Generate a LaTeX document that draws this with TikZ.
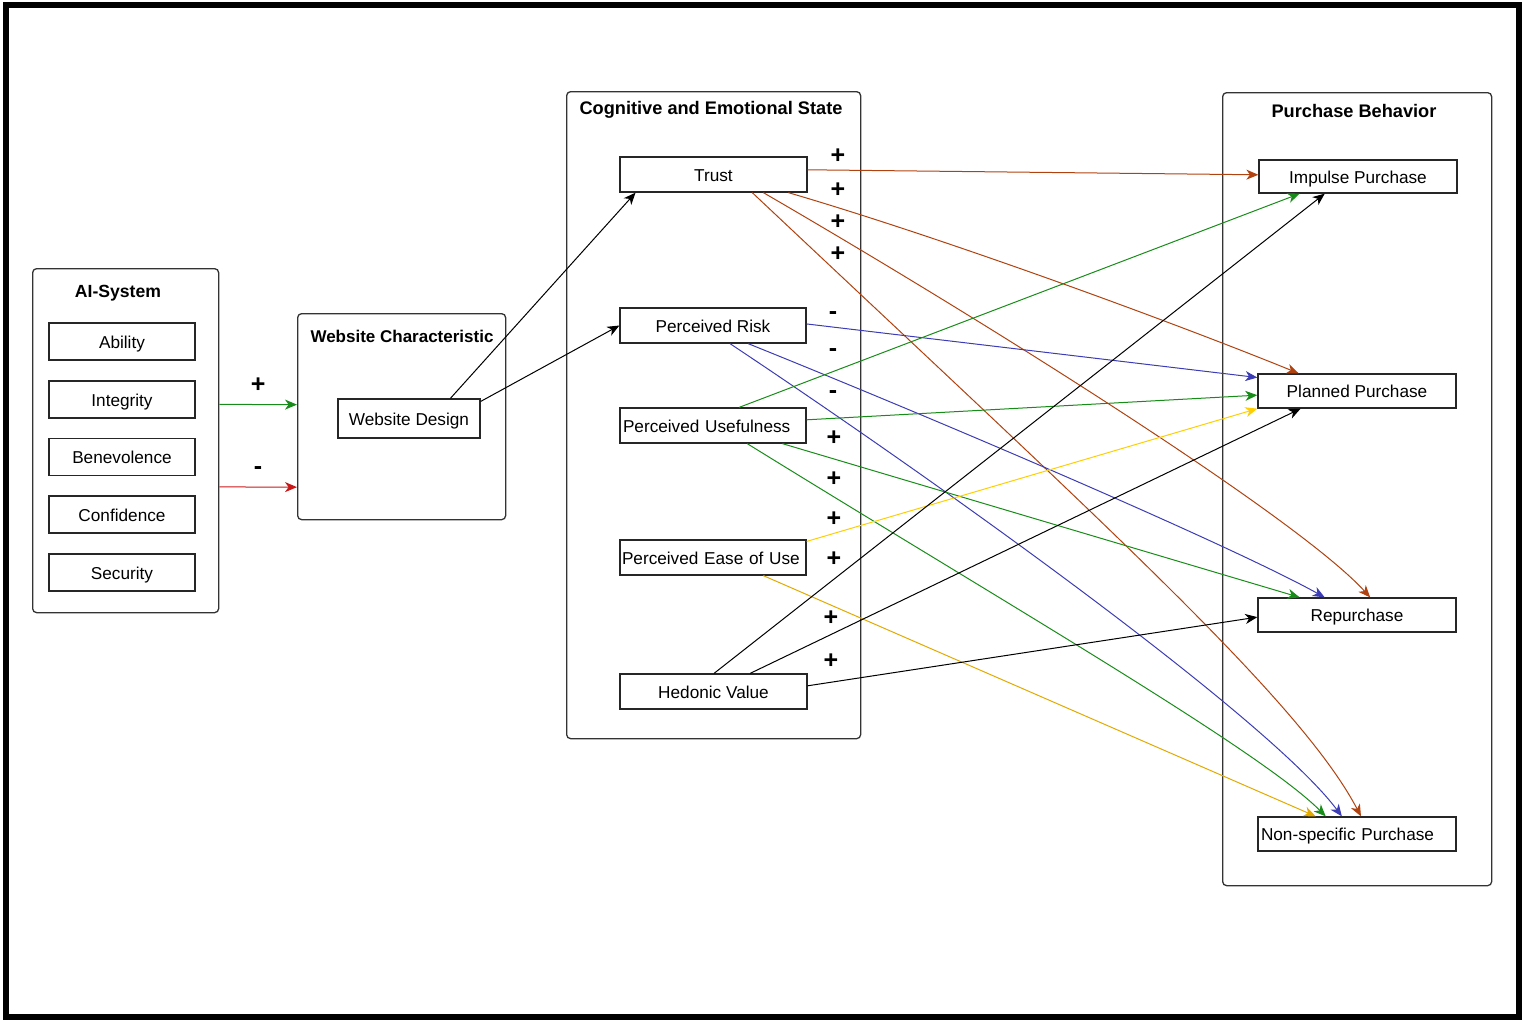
\documentclass[tikz,border=0pt]{standalone}
\usepackage{fontspec}
\setmainfont{Liberation Sans}
\usetikzlibrary{arrows.meta,calc}
\definecolor{cbrown}{RGB}{176,66,16}
\definecolor{cblue}{RGB}{60,60,180}
\definecolor{cgreen}{RGB}{24,140,24}
\definecolor{cred}{RGB}{200,24,24}
\definecolor{cyellow}{RGB}{255,206,0}
\definecolor{cgold}{RGB}{226,170,0}
\begin{document}
\begin{tikzpicture}[x=0.5pt,y=-0.5pt,
  container/.style={draw=black!80, line width=0.65pt, rounded corners=2pt, anchor=north west, inner sep=0pt},
  item/.style={draw=black!85, line width=0.65pt, fill=white, inner sep=0pt, text height=8pt, text depth=1.3pt, font=\fontsize{8.6}{10}\selectfont},
  ttl/.style={font=\bfseries\fontsize{9.1}{11}\selectfont, inner sep=0pt},
  sgn/.style={font=\bfseries\fontsize{12.5}{14}\selectfont, inner sep=0pt},
  conn/.style={line width=0.5pt, -{Stealth[length=6pt,width=5pt,inset=1.8pt]}}]
\useasboundingbox (0,0) rectangle (1528,1029);
% outer frame
\draw[line width=2.6pt] (6,5) rectangle (1519,1017);

% containers
\node[container, minimum width=93pt, minimum height=172pt] (ai) at (32,268) {};
\node[container, minimum width=104pt, minimum height=103pt] (wc) at (297,313) {};
\node[container, minimum width=147pt, minimum height=323.5pt] (cog) at (566,91) {};
\node[container, minimum width=134.5pt, minimum height=396.5pt] (pb) at (1222,92) {};

% titles
\node[ttl, font=\bfseries\fontsize{8.8}{11}\selectfont] (tai) at (118,293) {AI-System};
\node[ttl, font=\bfseries\fontsize{8.5}{11}\selectfont] (twc) at (402,336) {Website Characteristic};
\node[ttl] (tcog) at (711,110) {Cognitive and Emotional State};
\node[ttl] (tpb) at (1354,111) {Purchase Behavior};

% AI items
\node[item, minimum width=73pt, minimum height=18.5pt] (abil) at (122,341.5) {Ability};
\node[item, minimum width=73pt, minimum height=18.5pt] (integ) at (122,399.5) {Integrity};
\node[item, minimum width=73pt, minimum height=18.5pt] (bene) at (122,457) {Benevolence};
\node[item, minimum width=73pt, minimum height=18.5pt] (conf) at (122,514.5) {Confidence};
\node[item, minimum width=73pt, minimum height=18.5pt] (secu) at (122,572.5) {Security};

% website design
\node[item, minimum width=71pt, minimum height=19.5pt] (wd) at (409,418.5) {Website Design};

% cognitive items
\node[item, minimum width=93.5pt, minimum height=17.5pt] (trust) at (713.5,174.5) {Trust};
\node[item, minimum width=93pt, minimum height=17.5pt] (pr) at (713,325.5) {Perceived Risk};
\node[item, minimum height=17.5pt, text width=90pt, inner xsep=1.5pt, align=left] (pu) at (713,425.5) {Perceived Usefulness};
\node[item, minimum height=17.5pt, text width=91pt, inner xsep=1pt, align=left] (peou) at (713,557.5) {Perceived Ease of Use};
\node[item, minimum width=93.5pt, minimum height=17.5pt] (hv) at (713.5,691.5) {Hedonic Value};

% purchase items
\node[item, minimum width=99pt, minimum height=16.5pt] (imp) at (1358,176.5) {Impulse Purchase};
\node[item, minimum width=99pt, minimum height=17pt] (plan) at (1357,391) {Planned Purchase};
\node[item, minimum width=99pt, minimum height=17pt] (rep) at (1357,615) {Repurchase};
\node[item, minimum height=17pt, text width=96pt, inner xsep=1.5pt, align=left] (ns) at (1357,834) {Non-specific Purchase};

% signs
\node[sgn] (s1) at (838,156) {+};
\node[sgn] (s2) at (838,190) {+};
\node[sgn] (s3) at (838,222) {+};
\node[sgn] (s4) at (838,254) {+};
\node[sgn] (s5) at (833,316) {-};
\node[sgn] (s6) at (833,353) {-};
\node[sgn] (s7) at (833,395) {-};
\node[sgn] (s8) at (834,438) {+};
\node[sgn] (s9) at (834,479) {+};
\node[sgn] (s10) at (834,519) {+};
\node[sgn] (s11) at (834,559) {+};
\node[sgn] (s12) at (831,618) {+};
\node[sgn] (s13) at (831,661) {+};

% AI -> website characteristic
\draw[conn, cgreen] ($(ai.north east)!0.395!(ai.south east)$) -- ($(wc.north west)!0.442!(wc.south west)$)
  node[midway, sgn, black, yshift=9.5pt] (lp) {+};
\draw[conn, cred] ($(ai.north east)!0.634!(ai.south east)$) -- ($(wc.north west)!0.84!(wc.south west)$)
  node[midway, sgn, black, yshift=8.5pt] (lm) {-};

% website design -> cognitive
\draw[conn] ($(wd.north west)!0.789!(wd.north east)$) -- ($(trust.south west)!0.086!(trust.south east)$);
\draw[conn] ($(wd.north east)!0.077!(wd.south east)$) -- (pr.west);

% Trust
\draw[conn, cbrown] ($(trust.north east)!0.37!(trust.south east)$) -- ($(imp.north west)!0.45!(imp.south west)$);
\draw[conn, cbrown] ($(trust.south west)!0.898!(trust.south east)$) .. controls (950,240) and (1180,325) .. ($(plan.north west)!0.207!(plan.north east)$);
\draw[conn, cbrown] ($(trust.south west)!0.765!(trust.south east)$) .. controls (1000,330) and (1300,520) .. ($(rep.north west)!0.566!(rep.north east)$);
\draw[conn, cbrown] ($(trust.south west)!0.706!(trust.south east)$) .. controls (1100,520) and (1300,700) .. ($(ns.north west)!0.52!(ns.north east)$);

% Perceived Risk
\draw[conn, cblue] ($(pr.north east)!0.457!(pr.south east)$) -- ($(plan.north west)!0.118!(plan.south west)$);
\draw[conn, cblue] ($(pr.south west)!0.688!(pr.south east)$) .. controls (950,425) and (1230,545) .. ($(rep.north west)!0.338!(rep.north east)$);
\draw[conn, cblue] ($(pr.south west)!0.591!(pr.south east)$) .. controls (950,490) and (1270,720) .. ($(ns.north west)!0.424!(ns.north east)$);

% Perceived Usefulness
\draw[conn, cgreen] ($(pu.north west)!0.64!(pu.north east)$) -- ($(imp.south west)!0.207!(imp.south east)$);
\draw[conn, cgreen] ($(pu.north east)!0.343!(pu.south east)$) -- ($(plan.north west)!0.618!(plan.south west)$);
\draw[conn, cgreen] ($(pu.south west)!0.871!(pu.south east)$) -- ($(rep.north west)!0.212!(rep.north east)$);
\draw[conn, cgreen] ($(pu.south west)!0.683!(pu.south east)$) .. controls (1000,600) and (1260,750) .. ($(ns.north west)!0.343!(ns.north east)$);

% Perceived Ease of Use
\draw[conn, cyellow] ($(peou.north east)!0.057!(peou.south east)$) -- (plan.south west);
\draw[conn, cgold] ($(peou.south west)!0.769!(peou.south east)$) -- ($(ns.north west)!0.293!(ns.north east)$);

% Hedonic Value
\draw[conn] ($(hv.north west)!0.503!(hv.north east)$) -- ($(imp.south west)!0.333!(imp.south east)$);
\draw[conn] ($(hv.north west)!0.695!(hv.north east)$) -- ($(plan.south west)!0.217!(plan.south east)$);
\draw[conn] ($(hv.north east)!0.343!(hv.south east)$) -- ($(rep.north west)!0.56!(rep.south west)$);
\end{tikzpicture}
\end{document}
